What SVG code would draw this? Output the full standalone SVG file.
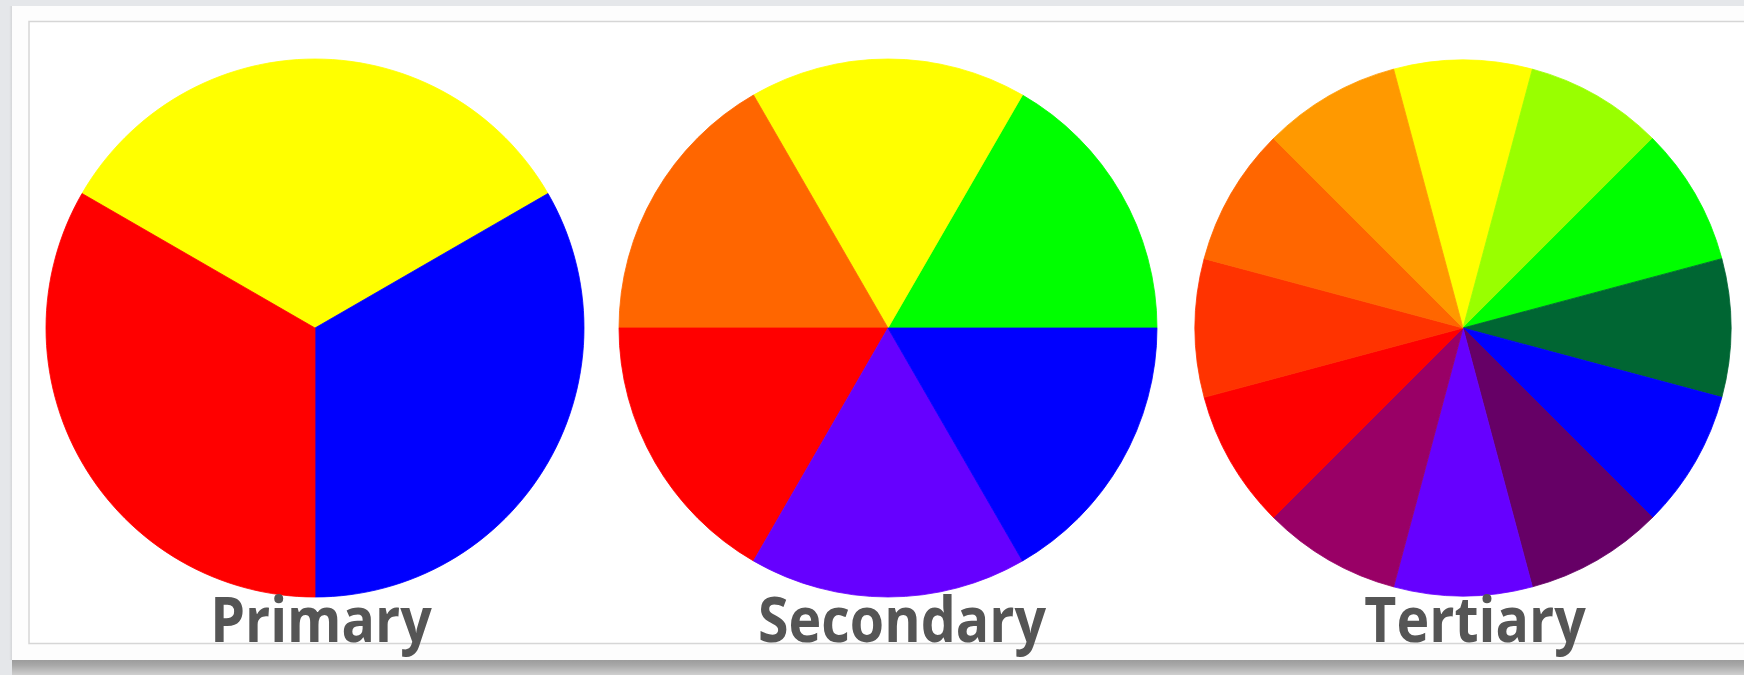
<svg xmlns="http://www.w3.org/2000/svg" width="1744" height="675" viewBox="0 0 1744 675">
<defs>
<linearGradient id="band" x1="0" y1="0" x2="0" y2="1">
<stop offset="0" stop-color="#9c9c9c"/>
<stop offset="0.35" stop-color="#a8a8a8"/>
<stop offset="1" stop-color="#cfcfcf"/>
</linearGradient>
<linearGradient id="lshadow" x1="0" y1="0" x2="1" y2="0">
<stop offset="0" stop-color="#e6e8eb"/>
<stop offset="1" stop-color="#cfd0d2"/>
</linearGradient>
</defs>
<style>
.lbl{font-family:"Open Sans","Lato","DejaVu Sans",sans-serif;font-weight:700;font-size:55.5px;fill:#555555;text-anchor:middle}
.s{stroke-width:0.8;stroke-linejoin:round}
.yel{fill:#ffff00;stroke:#ffff00}
.red{fill:#ff0000;stroke:#ff0000}
.blu{fill:#0000ff;stroke:#0000ff}
.grn{fill:#00ff00;stroke:#00ff00}
.org{fill:#ff6600;stroke:#ff6600}
.vio{fill:#6600ff;stroke:#6600ff}
.ygr{fill:#99ff00;stroke:#99ff00}
.dgr{fill:#006633;stroke:#006633}
.dpu{fill:#660066;stroke:#660066}
.mag{fill:#990066;stroke:#990066}
.ror{fill:#ff3300;stroke:#ff3300}
.amb{fill:#ff9900;stroke:#ff9900}
</style>
<rect x="0" y="0" width="1744" height="675" fill="#e5e7ea"/>
<rect x="9" y="6" width="4" height="654" fill="url(#lshadow)"/>
<rect x="12" y="6" width="1732" height="654" fill="#fdfdfd"/>
<rect x="12" y="660" width="1732" height="15" fill="url(#band)"/>
<rect x="29" y="21.5" width="1730" height="622" fill="#ffffff" stroke="#d6d6d6" stroke-width="1.5"/>

<g id="primary">
<path class="s yel" d="M315,328 L82.04,193.5 A269,269 0 0,1 547.96,193.5 Z"/>
<path class="s blu" d="M315,328 L547.96,193.5 A269,269 0 0,1 315,597 Z"/>
<path class="s red" d="M315,328 L315,597 A269,269 0 0,1 82.04,193.5 Z"/>
<text class="lbl" transform="translate(321,642) scale(1,1.12)">Primary</text>
</g>

<g id="secondary">
<path class="s grn" d="M888,328 L1022.5,95.04 A269,269 0 0,1 1157,328 Z"/>
<path class="s yel" d="M888,328 L753.5,95.04 A269,269 0 0,1 1022.5,95.04 Z"/>
<path class="s org" d="M888,328 L619,328 A269,269 0 0,1 753.5,95.04 Z"/>
<path class="s red" d="M888,328 L753.5,560.96 A269,269 0 0,1 619,328 Z"/>
<path class="s vio" d="M888,328 L1022.5,560.96 A269,269 0 0,1 753.5,560.96 Z"/>
<path class="s blu" d="M888,328 L1157,328 A269,269 0 0,1 1022.5,560.96 Z"/>
<text class="lbl" transform="translate(902,642) scale(1,1.12)">Secondary</text>
</g>

<g id="tertiary">
<path class="s yel" d="M1463,328 L1393.64,69.13 A268,268 0 0,1 1532.36,69.13 Z"/>
<path class="s ygr" d="M1463,328 L1532.36,69.13 A268,268 0 0,1 1652.5,138.5 Z"/>
<path class="s grn" d="M1463,328 L1652.5,138.5 A268,268 0 0,1 1721.87,258.64 Z"/>
<path class="s dgr" d="M1463,328 L1721.87,258.64 A268,268 0 0,1 1721.87,397.36 Z"/>
<path class="s blu" d="M1463,328 L1721.87,397.36 A268,268 0 0,1 1652.5,517.5 Z"/>
<path class="s dpu" d="M1463,328 L1652.5,517.5 A268,268 0 0,1 1532.36,586.87 Z"/>
<path class="s vio" d="M1463,328 L1532.36,586.87 A268,268 0 0,1 1393.64,586.87 Z"/>
<path class="s mag" d="M1463,328 L1393.64,586.87 A268,268 0 0,1 1273.5,517.5 Z"/>
<path class="s red" d="M1463,328 L1273.5,517.5 A268,268 0 0,1 1204.13,397.36 Z"/>
<path class="s ror" d="M1463,328 L1204.13,397.36 A268,268 0 0,1 1204.13,258.64 Z"/>
<path class="s org" d="M1463,328 L1204.13,258.64 A268,268 0 0,1 1273.5,138.5 Z"/>
<path class="s amb" d="M1463,328 L1273.5,138.5 A268,268 0 0,1 1393.64,69.13 Z"/>
<text class="lbl" transform="translate(1475,642) scale(1,1.12)">Tertiary</text>
</g>
</svg>
